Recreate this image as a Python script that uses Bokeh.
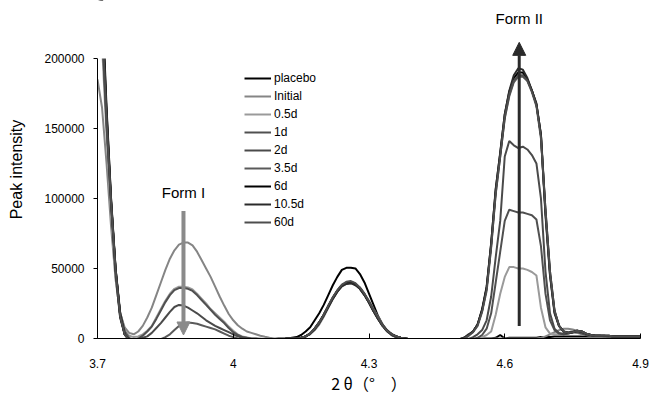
from bokeh.plotting import figure
from bokeh.models import (Range1d, FixedTicker, Arrow, NormalHead, Label, Legend,
                          LegendItem, BasicTickFormatter, BoxAnnotation)
from bokeh.embed import file_html
from bokeh.resources import INLINE

# 2-theta sampling grid, 3.70 .. 4.90 in 0.01 steps
two_theta = [round(3.70 + 0.01 * i, 2) for i in range(121)]

placebo = [
    300000, 235000, 160000, 95000, 45000, 15000, 3000, -1000, -2000, -2500,
    -2500, -2500, -2500, -2500, -2500, -2000, -2000, -2000, -2000, -2000,
    -2000, -1500, -1500, -1500, -1500, -1000, -1000, -1000, -1000, -1000,
    -1000, -1000, -1000, -1000, -1000, -1000, -500, -500, -500, -500,
    0, 0, 0, 500, 1000, 2500, 5000, 8000, 13000, 18000,
    24000, 31000, 38000, 44000, 49000, 50500, 50500, 50000, 46000, 40000,
    32000, 24000, 16000, 10000, 5500, 2500, 1000, 0, -500, -1000,
    -1000, -1000, -1000, -1000, -1000, -1000, -1000, -1000, -1000, -1000,
    -1000, -1000, -500, -500, 0, 0, 0, 0, 500, 2500,
    0, 500, 500, 500, 500, 500, 500, 500, 1000, 1000,
    1000, 1500, 1500, 1500, 1500, 1500, 1500, 1500, 1500, 1500,
    1500, 1500, 1500, 1500, 1500, 1500, 1500, 1500, 1500, 1500,
    1500]

initial = [
    185000, 165000, 125000, 80000, 42000, 18000, 8000, 4000, 3000, 5000,
    9000, 15000, 22000, 31000, 40000, 49000, 57000, 63000, 67000, 68500,
    68500, 66500, 62000, 56000, 50000, 44000, 37000, 30000, 23500, 17500,
    13000, 9500, 7000, 5000, 4000, 3000, 2000, 1200, 500, 0,
    0, 0, 0, 0, 0, 500, 1500, 3000, 6000, 10000,
    15500, 22000, 28000, 33500, 37000, 39000, 39500, 38500, 36000, 32000,
    27000, 21000, 15500, 10000, 6000, 3500, 1500, 500, 0, -500,
    -500, -500, -500, -500, -500, -500, -500, -500, -500, -500,
    -500, -500, 0, 0, 0, 0, 0, 0, 0, 0,
    0, 0, 0, 0, 0, 0, 0, 0, 500, 1500,
    3000, 4500, 6000, 7000, 7000, 6500, 5500, 4500, 3500, 2500,
    2000, 2000, 1500, 1500, 1500, 1500, 1500, 1500, 1500, 1500,
    1500]

d0_5 = [
    260000, 210000, 145000, 90000, 47000, 19000, 6000, 2000, 1000, 1500,
    3000, 5500, 9000, 15000, 21000, 27000, 32000, 35500, 37000, 37000,
    36500, 35000, 32000, 28500, 25000, 21000, 18000, 15000, 12000, 8500,
    5500, 3000, 1500, 700, 200, 0, 0, -500, -500, -500,
    -500, -500, 0, 0, 0, 500, 1500, 3500, 7000, 11500,
    17000, 23000, 29000, 34000, 37500, 39500, 40000, 38500, 35500, 31000,
    25500, 19500, 14000, 9000, 5500, 3000, 1500, 500, 0, -500,
    -1000, -1000, -1000, -1000, -1000, -1000, -1000, -1000, -1000, -1000,
    -1000, -1000, -1000, -500, -500, 1000, 2500, 5000, 17000, 32000,
    44000, 51000, 51000, 50000, 50000, 49000, 47500, 45000, 22000, 8000,
    3500, 3000, 3000, 3500, 4000, 4500, 4000, 3000, 2500, 2000,
    2000, 2000, 1500, 1500, 1500, 1500, 1500, 1500, 1500, 1500,
    1500]

d1 = [
    280000, 225000, 155000, 97000, 50000, 19000, 5000, 0, -1000, 0,
    2000, 5000, 8500, 14000, 20000, 26000, 31000, 34500, 36000, 36000,
    35500, 34000, 31000, 27500, 24000, 20500, 17000, 14000, 11000, 7500,
    4500, 2500, 1000, 500, 0, 0, -500, -500, -500, -500,
    -500, -500, 0, 0, 0, 500, 1500, 3500, 7000, 11500,
    17000, 23000, 29000, 34000, 38000, 40000, 40500, 39000, 36000, 31500,
    26000, 20000, 14500, 9500, 5500, 3000, 1500, 500, 0, -500,
    -1000, -1000, -1000, -1000, -1000, -1000, -1000, -1000, -1000, -1000,
    -1000, -1000, -1000, -500, 500, 2500, 7000, 18000, 40000, 62000,
    84000, 92000, 91000, 90000, 90000, 89000, 88000, 85000, 66000, 32000,
    13000, 6000, 3500, 3000, 3500, 4500, 4500, 3500, 2500, 2000,
    2000, 2000, 1500, 1500, 1500, 1500, 1500, 1500, 1500, 1500,
    1500]

d2 = [
    290000, 230000, 158000, 98000, 48000, 17000, 4000, 0, -500, -500,
    500, 1500, 4000, 7500, 11000, 15000, 19000, 22500, 24000, 23500,
    22000, 20000, 18000, 15500, 13000, 11000, 9000, 7500, 6000, 4500,
    3000, 1500, 500, 0, -500, -500, -500, -500, -500, -500,
    -500, -500, 0, 0, 0, 500, 1500, 3500, 7000, 11000,
    16500, 22500, 28500, 33500, 37500, 39500, 40000, 38500, 35500, 31000,
    25500, 19500, 14000, 9000, 5000, 2500, 1000, 0, -500, -1000,
    -1000, -1000, -1000, -1000, -1000, -1000, -1000, -1000, -1000, -1000,
    -1000, -1000, -500, 1000, 3000, 6000, 13000, 30000, 58000, 84000,
    130000, 141000, 138000, 136000, 137000, 135000, 131000, 125000, 100000, 48000,
    18000, 7000, 4000, 3000, 3500, 4500, 5000, 4500, 3000, 2000,
    2000, 2000, 2000, 1500, 1500, 1500, 1500, 1500, 1500, 1500,
    1500]

d3_5 = [
    270000, 220000, 152000, 96000, 49000, 18000, 5000, 0, -1000, -1500,
    -1500, -1500, -1000, -1000, -500, 1000, 3000, 6000, 9000, 11000,
    11500, 11000, 10500, 9500, 8500, 7500, 6500, 5000, 3500, 2000,
    1000, 0, -500, -500, -500, -500, -500, -500, -500, -500,
    -500, -500, 0, 0, 0, 500, 1500, 3500, 7000, 11500,
    17000, 23000, 29000, 34000, 38000, 40000, 40500, 39000, 36000, 31500,
    26000, 20000, 14500, 9500, 5500, 3000, 1500, 500, 0, -500,
    -1000, -1000, -1000, -1000, -1000, -1000, -1000, -1000, -1000, -1000,
    -1000, -500, 2000, 5000, 10000, 20000, 36000, 66000, 104000, 130000,
    157000, 173000, 183000, 187000, 187000, 184000, 177000, 167000, 146000, 92000,
    48000, 20000, 9000, 5000, 4500, 5000, 5500, 5000, 3500, 2500,
    2000, 2000, 2000, 1500, 1500, 1500, 1500, 1500, 1500, 1500,
    1500]

d6 = [
    310000, 245000, 165000, 100000, 50000, 17000, 3000, -1000, -2000, -2500,
    -2500, -2500, -2500, -2500, -2000, -2000, -2000, -2000, -1500, -1500,
    -1500, -1500, -1000, -1000, -1000, -1000, -1000, -1000, -500, -500,
    -500, -500, -500, -500, -500, -500, -500, -500, -500, -500,
    -500, -500, 0, 0, 0, 500, 1500, 3500, 7000, 11500,
    17000, 23000, 29000, 34000, 38000, 40000, 40500, 39000, 36000, 31500,
    26000, 20000, 14500, 9500, 5500, 3000, 1500, 500, 0, -500,
    -1000, -1000, -1000, -1000, -1000, -1000, -1000, -1000, -1000, -1000,
    -500, 500, 2500, 5000, 10000, 21000, 37000, 68000, 106000, 133000,
    160000, 176000, 186000, 190000, 190000, 185000, 177000, 167000, 145000, 90000,
    46000, 19000, 9000, 5000, 4000, 4500, 5500, 5000, 3500, 2500,
    2000, 2000, 2000, 2000, 1500, 1500, 1500, 1500, 1500, 1500,
    1500]

d10_5 = [
    295000, 238000, 162000, 99000, 49000, 17000, 3000, -1000, -2000, -2500,
    -2500, -2500, -2500, -2500, -2000, -2000, -2000, -2000, -1500, -1500,
    -1500, -1500, -1000, -1000, -1000, -1000, -1000, -1000, -500, -500,
    -500, -500, -500, -500, -500, -500, -500, -500, -500, -500,
    -500, -500, 0, 0, 0, 500, 1500, 3500, 6500, 11000,
    16500, 22500, 28500, 33500, 37500, 39000, 39500, 38000, 35500, 31000,
    25500, 19500, 14000, 9000, 5500, 3000, 1500, 500, 0, -500,
    -1000, -1000, -1000, -1000, -1000, -1000, -1000, -1000, -1000, -1000,
    -500, 500, 3000, 5000, 10000, 20000, 36000, 68000, 107000, 132000,
    160000, 177000, 188000, 193000, 192000, 186000, 177000, 168000, 145000, 88000,
    45000, 18000, 9000, 5000, 4000, 4500, 5500, 5000, 3500, 2500,
    2000, 2000, 2000, 2000, 1500, 1500, 1500, 1500, 1500, 1500,
    1500]

d60 = [
    285000, 228000, 156000, 97000, 48000, 16000, 3000, -1000, -2000, -2500,
    -2500, -2500, -2500, -2500, -2000, -2000, -2000, -2000, -1500, -1500,
    -1500, -1500, -1000, -1000, -1000, -1000, -1000, -1000, -500, -500,
    -500, -500, -500, -500, -500, -500, -500, -500, -500, -500,
    -500, -500, 0, 0, 0, 500, 1500, 3500, 7000, 11500,
    17000, 23500, 29500, 34500, 38500, 40500, 41000, 39500, 36500, 32000,
    26500, 20500, 15000, 9500, 5500, 3000, 1500, 500, 0, -500,
    -1000, -1000, -1000, -1000, -1000, -1000, -1000, -1000, -1000, -1000,
    -500, 0, 2000, 4500, 9000, 19000, 34000, 65000, 103000, 130000,
    158000, 174000, 184000, 188000, 188000, 184000, 176000, 166000, 143000, 92000,
    48000, 20000, 9000, 5000, 4000, 4500, 5500, 5000, 3500, 2500,
    2000, 2000, 2000, 2000, 1500, 1500, 1500, 1500, 1500, 1500,
    1500]

series_names = ["placebo", "Initial", "0.5d", "1d", "2d", "3.5d", "6d", "10.5d", "60d"]
series_values = [placebo, initial, d0_5, d1, d2, d3_5, d6, d10_5, d60]
series_colors = ["#000000", "#858585", "#9a9a9a", "#505050", "#4a4a4a", "#5a5a5a",
                 "#000000", "#2a2a2a", "#4d4d4d"]

x_ticks = [3.7, 4.0, 4.3, 4.6, 4.9]
x_tick_labels = ["3.7", "4", "4.3", "4.6", "4.9"]
y_ticks = [0, 50000, 100000, 150000, 200000]
y_axis_max = 200000          # top of the value axis
y_view_max = 241400          # extra room above the axis for the Form II note

# annotations (data coordinates)
form1_x, form1_y_from, form1_y_to, form1_label_y = 3.89, 91000, 2500, 104500
form2_x, form2_y_from, form2_y_to, form2_label_y = 4.632, 9000, 211500, 228500

FONT = "Liberation Sans"

p = figure(width=652, height=400, output_backend="svg", toolbar_location=None,
           x_range=Range1d(3.7, 4.9), y_range=Range1d(0, y_view_max),
           min_border_left=97, min_border_right=12, min_border_top=0,
           min_border_bottom=62)
p.outline_line_color = None
p.xgrid.visible = False
p.ygrid.visible = False
p.background_fill_color = "white"
p.border_fill_color = "white"

items = []
for name, ys, col in zip(series_names, series_values, series_colors):
    r = p.line(two_theta, ys, line_color=col, line_width=2)
    items.append(LegendItem(label=name, renderers=[r]))

# the plot area ends at the top of the value axis: hide anything above it
p.add_layout(BoxAnnotation(bottom=y_axis_max, fill_color="white", fill_alpha=1,
                           line_color=None))

legend = Legend(items=items, location=(147, 109), orientation="vertical",
                border_line_color=None, background_fill_alpha=0,
                padding=0, margin=0, spacing=4, glyph_width=27, glyph_height=14,
                label_height=14, label_standoff=3,
                label_text_font=FONT, label_text_font_size="12px",
                label_text_color="#000000")
p.add_layout(legend)

# axes
xa = p.xaxis[0]
xa.ticker = FixedTicker(ticks=x_ticks)
xa.major_label_overrides = {t: l for t, l in zip(x_ticks, x_tick_labels)}
xa.minor_tick_line_color = None
xa.major_tick_in = 5
xa.major_tick_out = 0
xa.major_label_standoff = 20
xa.axis_label = "2 θ（°　）"
xa.axis_label_text_font = "Noto Sans CJK JP"
xa.axis_label_text_font_size = "16px"
xa.axis_label_text_font_style = "normal"
xa.axis_label_standoff = 0

ya = p.yaxis[0]
ya.ticker = FixedTicker(ticks=y_ticks)
ya.bounds = (0, y_axis_max)
ya.formatter = BasicTickFormatter(use_scientific=False)
ya.minor_tick_line_color = None
ya.major_tick_in = 0
ya.major_tick_out = 4
ya.major_label_standoff = 9
ya.axis_label = "Peak intensity"
ya.axis_label_text_font = FONT
ya.axis_label_text_font_size = "16px"
ya.axis_label_text_font_style = "normal"
ya.axis_label_standoff = 16

for ax in (xa, ya):
    ax.axis_line_color = "#000000"
    ax.major_tick_line_color = "#000000"
    ax.major_label_text_font = FONT
    ax.major_label_text_font_size = "12px"
    ax.major_label_text_color = "#000000"
    ax.axis_label_text_color = "#000000"

p.add_layout(Arrow(end=NormalHead(size=13, fill_color="#8a8a8a", line_color="#8a8a8a"),
                   x_start=form1_x, y_start=form1_y_from, x_end=form1_x, y_end=form1_y_to,
                   line_color="#8a8a8a", line_width=4))
p.add_layout(Arrow(end=NormalHead(size=13, fill_color="#2a2a2a", line_color="#2a2a2a"),
                   x_start=form2_x, y_start=form2_y_from, x_end=form2_x, y_end=form2_y_to,
                   line_color="#2a2a2a", line_width=3))
p.add_layout(Label(x=form1_x, y=form1_label_y, text="Form I", text_align="center",
                   text_baseline="middle", text_font=FONT, text_font_size="15px",
                   text_color="#000000"))
p.add_layout(Label(x=form2_x, y=form2_label_y, text="Form II", text_align="center",
                   text_baseline="middle", text_font=FONT, text_font_size="15px",
                   text_color="#000000"))

open("out.html", "w").write(file_html(p, INLINE))
